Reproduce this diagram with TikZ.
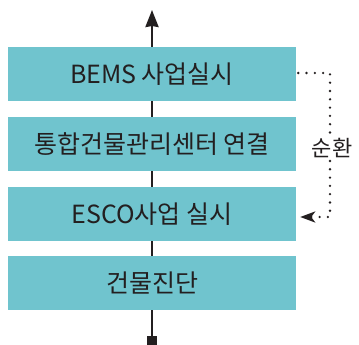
\documentclass[tikz,border=0pt]{standalone}
\usepackage{fontspec}
\setmainfont{Noto Sans CJK KR}
\usetikzlibrary{arrows.meta}
\definecolor{boxteal}{HTML}{70C4CE}
\definecolor{ink}{HTML}{231F20}
\tikzset{
  stagebox/.style={fill=boxteal, draw=none, minimum width=288pt, minimum height=54pt,
    inner sep=0pt, text=ink, font=\fontsize{25pt}{29pt}\selectfont},
  spine/.style={draw=ink, line width=2.4pt},
  loopline/.style={draw=ink, line width=2.6pt, line cap=round, dash pattern=on 0pt off 8.3pt},
  looplabel/.style={fill=white, inner sep=3pt, text=ink, font=\fontsize{22pt}{26pt}\selectfont}
}
\begin{document}
\begin{tikzpicture}[x=1pt, y=-1pt]
  \useasboundingbox (0,0) rectangle (359,345);

  % start marker and end of the upward flow
  \node[fill=ink, minimum size=10pt, inner sep=0pt] (start) at (152,341) {};
  \coordinate (top) at (152,10);

  % flow line behind the stages
  \draw[spine] (start.center) -- (152,283);
  \draw[spine, -{Stealth[length=17pt, width=13pt, inset=1pt]}] (152,283) -- (top);

  % stages, bottom to top
  \node[stagebox] (b4) at (152,283) {건물진단};
  \node[stagebox] (b3) at (152,214) {ESCO사업 실시};
  \node[stagebox] (b2) at (152,144) {통합건물관리센터 연결};
  \node[stagebox] (b1) at (152,74)  {BEMS 사업실시};

  % feedback loop on the right
  \node[looplabel] (lab) at (332,148) {순환};
  \draw[loopline] ([xshift=2pt,yshift=1pt]b1.east) -| (lab.north -| 330,0);
  \draw[loopline, -{Stealth[length=15pt, width=11pt, inset=4pt]}]
    (lab.south -| 330,0) |- ([xshift=4pt,yshift=-3pt]b3.east);
\end{tikzpicture}
\end{document}
